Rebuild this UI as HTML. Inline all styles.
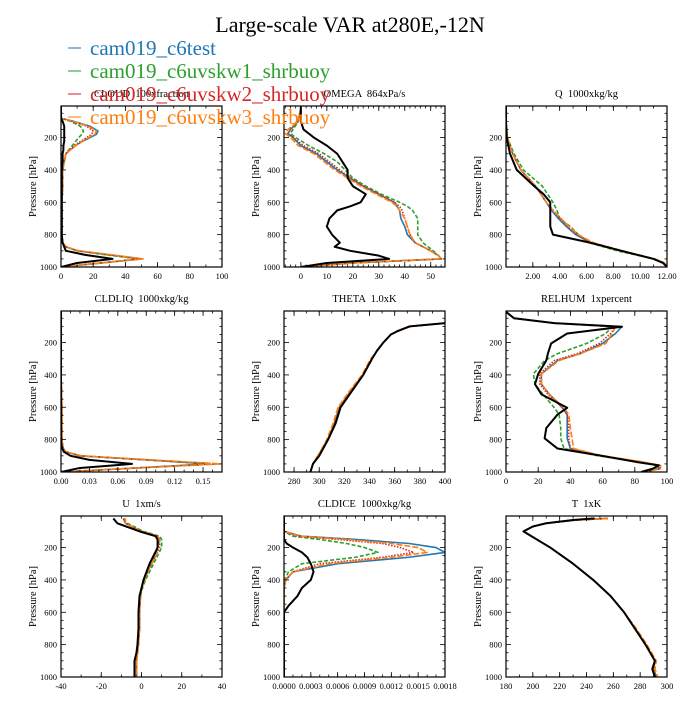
<!DOCTYPE html>
<html><head><meta charset="utf-8"><style>
body{margin:0;background:#fff}
svg text{font-family:"Liberation Serif","Times New Roman",serif;white-space:pre}
</style></head><body>
<svg id="c" width="700" height="700" viewBox="0 0 700 700" xmlns="http://www.w3.org/2000/svg">
<text x="350" y="32" text-anchor="middle" font-size="22" font-family="Liberation Serif, serif">Large-scale VAR at280E,-12N</text>
</svg>
<script>
const seriesNames=["cam019_c6test","cam019_c6uvskw1_shrbuoy","cam019_c6uvskw2_shrbuoy","cam019_c6uvskw3_shrbuoy"];
const seriesColors=["#1f77b4","#2ca02c","#d62728","#ff7f0e","#000000"];
const seriesDash=["","4,2","1.5,1.5","6,2",""];
const seriesWidth=[1.6,1.6,1.6,1.6,2];

// CLOUD
const pCloud=[10,50,80,100,130,160,180,200,225,250,275,300,350,400,500,600,700,800,850,875,900,925,950,975,1000];
const cloudBlue=[0,0,0,8,18,23,22,18,13,9,6,3,2,1,1,0.5,0.5,0.5,1,3,10,30,50,25,0];
const cloudGreen=[0,0,0,6,12,14,13,11,9,7,5,3,2,1,1,0.5,0.5,0.5,1,3,10,28,48,25,0];
const cloudRed=[0,0,0,7,16,20,19,16,12,8,5,3,2,1,1,0.5,0.5,0.5,1,3,11,30,49,25,0];
const cloudOrange=[0,0,0,8,17,22,21,17,13,9,6,3,2,1,1,0.5,0.5,0.5,1,3,11,32,51,25,0];
const cloudObs=[0,0,0,1,2,2,2,2,2,1.5,1.5,1,1,0.5,0.5,0.5,0.5,0.5,1,2,3,15,32,10,0];
// OMEGA
const pOmega=[10,100,150,175,200,250,300,350,400,450,500,550,600,625,650,700,750,800,850,875,900,930,950,975,1000];
const omegaBlue=[0,-1,-4,-5,-3,0,6,10,14,19,24,30,36,37,38,38.5,40,41,44,47,50,53,54,20,0];
const omegaGreen=[0,-1,-3,-4,-2,3,9,14,17,20,25,31,38,41,43,45,45,45,47,49,51,53,54,20,0];
const omegaRed=[0,-1,-4,-5,-3,1,7,11,15,19,24,30,36,38,39,40,41,42,44,47,50,53,54,20,0];
const omegaOrange=[0,-1,-5,-6,-4,-1,5,9,13,18,23,29,35,37,38,40,41,42,44,47,50,53,54,20,0];
const omegaObs=[0,0,1,3,5,10,14,16,18,18,20,25,23,19,14,11,10,12,15,13,19,30,34,10,0];
// Q
const pQ=[10,100,200,300,400,500,550,600,650,700,750,800,850,900,950,975,1000];
const qBlue=[0,0,0.1,0.5,1.1,2.2,2.6,3.0,3.4,3.9,4.5,5.2,6.3,8.5,11,11.8,12];
const qGreen=[0,0,0.1,0.6,1.3,2.7,3.1,3.5,3.8,4.0,4.8,5.4,6.2,8.3,11,11.8,12];
const qRed=[0,0,0.1,0.5,1.1,2.2,2.6,3.0,3.5,4.0,4.6,5.3,6.4,8.6,11,11.8,12];
const qOrange=[0,0,0.1,0.5,1.1,2.2,2.6,3.0,3.5,4.1,4.7,5.4,6.5,8.7,11.1,11.8,12];
const qObs=[0,0,0.05,0.3,0.8,2.1,2.8,3.3,3.3,3.3,3.3,3.5,6.3,8.6,11,11.7,12];
// CLDLIQ
const pLiq=[10,200,400,600,800,850,875,900,925,950,975,1000];
const liqBlue=[0,0,0,0.001,0.001,0.002,0.005,0.02,0.09,0.155,0.08,0];
const liqGreen=[0,0,0,0.001,0.001,0.002,0.005,0.02,0.09,0.165,0.08,0];
const liqRed=[0,0,0,0.001,0.001,0.002,0.005,0.02,0.09,0.165,0.08,0];
const liqOrange=[0,0,0,0.001,0.001,0.002,0.005,0.022,0.095,0.168,0.08,0];
const liqObs=[0,0,0,0,0,0.001,0.003,0.01,0.03,0.075,0.02,0];
// THETA
const pTheta=[60,80,100,130,150,200,250,300,400,500,600,700,800,900,950,1000];
const thetaBlue=[430,400,372,362,357,351,346,342,335,325,316,312,307,299,295,293];
const thetaGreen=[430,400,372,362,357,351,346,342,335,325,316,312,307,299,295,293];
const thetaRed=[430,400,372,362,357,351,346,342,335,325,316,312,307,299,295,293];
const thetaOrange=[430,400,373,363,357,351,346,341,334,324,315,311,306,299,295,293];
const thetaObs=[430,400,372,362,357,351,346,342,335,326,317,313,307,300,295,293];
// RELHUM
const pRh=[10,50,80,102,144,206,269,311,394,457,520,603,645,729,792,855,896,938,959,980,1000];
const rhBlue=[0,5,30,72,68,60,46,32,22,22,27,35,38,38,38,40,57,84,94,95,84];
const rhGreen=[0,5,30,66,62,50,32,24,17,18,23,30,33,34,34,36,55,83,93,94,85];
const rhRed=[0,5,30,68,65,58,44,30,21,21,26,35,38,39,39,40,57,84,95,96,85];
const rhOrange=[0,5,30,68,66,62,46,33,22,22,27,36,39,40,41,42,58,85,96,96,86];
const rhObs=[0,5,30,72,38,28,26,25,20,18,22,38,32,25,24,32,57,81,95,91,84];
// U
const pU=[20,50,100,130,150,200,250,300,350,400,450,500,600,700,800,850,900,1000];
const uBlue=[-9,-8,0,8,9,8,7,5,3,1.5,0,-0.5,-1,-1,-1.5,-2,-2.5,-2.5];
const uGreen=[-9,-7,1,9,10,10,8,6,4,2,0.5,-0.5,-1,-1,-1.5,-2,-2.5,-2.5];
const uRed=[-9,-8,0,8,9,9,7,5,3,1.5,0,-0.5,-1,-1,-1.5,-2,-2.5,-2.5];
const uOrange=[-8,-8,0,8,9,8,7,5,3,1.5,0,-0.5,-1,-1,-1.5,-2,-2.5,-2.5];
const uObs=[-14,-12,-1,7,8,8,6,4,2.5,1,0,-1,-1.5,-1.5,-2,-2.5,-3.5,-3.5];
// CLDICE
const pIce=[10,100,130,150,175,200,230,260,300,350,400,450,500,560,600,1000];
const iceBlue=[0,0,0.0002,0.0008,0.0014,0.0017,0.0018,0.0014,0.0006,0.0001,0.00002,0,0,0,0,0];
const iceGreen=[0,0,0.0001,0.0004,0.0007,0.0009,0.00105,0.0008,0.0002,0.00005,0.00001,0,0,0,0,0];
const iceRed=[0,0,0.00015,0.0006,0.0011,0.0013,0.00145,0.0011,0.0004,0.0001,0.00002,0,0,0,0,0];
const iceOrange=[0,0,0.0002,0.0007,0.0012,0.0015,0.0016,0.0012,0.0005,0.0001,0.00002,0,0,0,0,0];
const iceObs=[0,0,0,0,0.00003,0.0001,0.0002,0.00026,0.0003,0.00033,0.0003,0.0002,0.00015,0.00005,0,0];
// T
const pT=[20,30,50,70,100,130,200,300,400,500,600,700,800,900,950,1000];
const tBlue=[256,232,210,200,193,199,213,230,245,258,268,276,284,291,290,292];
const tGreen=[256,232,210,200,193,199,213,230,245,258,268,276,284,291,290,292];
const tRed=[256,232,210,200,193,199,213,230,245,258,268,276,284,291,290,292];
const tOrange=[256,232,210,200,193,199,213,230,245,258,268,277,285,292,291,293];
const tObs=[246,230,210,200,193,199,213,230,245,258,268,276,284,291,289,291];

const NS="http://www.w3.org/2000/svg";
const svg=document.getElementById("c");
const FF="Liberation Serif, serif";
function mk(tag,attrs,parent){const e=document.createElementNS(NS,tag);for(const k in attrs)e.setAttribute(k,attrs[k]);(parent||svg).appendChild(e);return e;}

const panels=[
 {title:"CLOUD  100xfraction",x0:61,y0:106,xmin:0,xmax:100,xt:[0,20,40,60,80,100],xl:v=>String(v),minor:10,p:pCloud,s:[cloudBlue,cloudGreen,cloudRed,cloudOrange,cloudObs]},
 {title:"OMEGA  864xPa/s",x0:284,y0:106,xmin:-6.5,xmax:55.5,xt:[0,10,20,30,40,50],xl:v=>String(v),minor:2,p:pOmega,s:[omegaBlue,omegaGreen,omegaRed,omegaOrange,omegaObs]},
 {title:"Q  1000xkg/kg",x0:506,y0:106,xmin:0,xmax:12,xt:[2,4,6,8,10,12],xl:v=>v.toFixed(2),minor:1,p:pQ,s:[qBlue,qGreen,qRed,qOrange,qObs]},
 {title:"CLDLIQ  1000xkg/kg",x0:61,y0:311,xmin:0,xmax:0.17,xt:[0,0.03,0.06,0.09,0.12,0.15],xl:v=>v.toFixed(2),minor:0.01,p:pLiq,s:[liqBlue,liqGreen,liqRed,liqOrange,liqObs]},
 {title:"THETA  1.0xK",x0:284,y0:311,xmin:272,xmax:400,xt:[280,300,320,340,360,380,400],xl:v=>String(v),minor:10,p:pTheta,s:[thetaBlue,thetaGreen,thetaRed,thetaOrange,thetaObs]},
 {title:"RELHUM  1xpercent",x0:506,y0:311,xmin:0,xmax:100,xt:[0,20,40,60,80,100],xl:v=>String(v),minor:10,p:pRh,s:[rhBlue,rhGreen,rhRed,rhOrange,rhObs]},
 {title:"U  1xm/s",x0:61,y0:516,xmin:-40,xmax:40,xt:[-40,-20,0,20,40],xl:v=>String(v),minor:10,p:pU,s:[uBlue,uGreen,uRed,uOrange,uObs]},
 {title:"CLDICE  1000xkg/kg",x0:284,y0:516,xmin:0,xmax:0.0018,xt:[0,0.0003,0.0006,0.0009,0.0012,0.0015,0.0018],xl:v=>v.toFixed(4),minor:0.0001,p:pIce,s:[iceBlue,iceGreen,iceRed,iceOrange,iceObs]},
 {title:"T  1xK",x0:506,y0:516,xmin:180,xmax:300,xt:[180,200,220,240,260,280,300],xl:v=>String(v),minor:10,p:pT,s:[tBlue,tGreen,tRed,tOrange,tObs]},
];
const W=161,H=161,PMIN=5,PMAX=1000;
panels.forEach((P,pi)=>{
  const g=mk("g",{});
  
  
  const xs=v=>P.x0+(v-P.xmin)/(P.xmax-P.xmin)*W;
  const ys=p=>P.y0+(p-PMIN)/(PMAX-PMIN)*H;
  const cp=mk("clipPath",{id:"cp"+pi},g);
  mk("rect",{x:P.x0,y:P.y0,width:W,height:H},cp);
  const t=mk("text",{x:P.x0+W/2,y:P.y0-9,"text-anchor":"middle","font-size":10.5,"font-family":FF},g);
  
  
  t.textContent=P.title;
  const yl=mk("text",{x:0,y:0,"text-anchor":"middle","font-size":10.5,"font-family":FF,transform:`translate(${P.x0-25},${P.y0+H/2}) rotate(-90)`},g);
  
  
  yl.textContent="Pressure [hPa]";
  P.s.forEach((arr,si)=>{
    const d=arr.map((v,k)=>(k?"L":"M")+xs(v).toFixed(2)+","+ys(P.p[k]).toFixed(2)).join("");
    const path=mk("path",{d:d,fill:"none",stroke:seriesColors[si],"stroke-width":seriesWidth[si],"stroke-dasharray":seriesDash[si],"clip-path":`url(#cp${pi})`,"stroke-linejoin":"round"},g);
    
    
  });
  mk("rect",{x:P.x0,y:P.y0,width:W,height:H,fill:"none",stroke:"#000","stroke-width":1.2},g);
  for(let p=50;p<=1000;p+=50){
    const y=ys(p),L=(p%200===0)?5:2.5;
    mk("line",{x1:P.x0,x2:P.x0+L,y1:y,y2:y,stroke:"#000","stroke-width":0.8},g);
    mk("line",{x1:P.x0+W,x2:P.x0+W-L,y1:y,y2:y,stroke:"#000","stroke-width":0.8},g);
    if(p%200===0){const tl=mk("text",{x:P.x0-4,y:y+3,"text-anchor":"end","font-size":8.5,"font-family":FF},g);tl.textContent=p;
      
      }
  }
  const n=Math.round((P.xmax-P.xmin)/P.minor)+2;
  const start=Math.ceil(P.xmin/P.minor)*P.minor;
  for(let k=0;k<n;k++){const v=start+k*P.minor;if(v>P.xmax+1e-9)break;const x=xs(v);
    mk("line",{x1:x,x2:x,y1:P.y0+H,y2:P.y0+H-2.5,stroke:"#000","stroke-width":0.8},g);
    mk("line",{x1:x,x2:x,y1:P.y0,y2:P.y0+2.5,stroke:"#000","stroke-width":0.8},g);}
  P.xt.forEach(v=>{const x=xs(v);
    mk("line",{x1:x,x2:x,y1:P.y0+H,y2:P.y0+H-5,stroke:"#000","stroke-width":0.8},g);
    mk("line",{x1:x,x2:x,y1:P.y0,y2:P.y0+5,stroke:"#000","stroke-width":0.8},g);
    const tl=mk("text",{x:x,y:P.y0+H+12,"text-anchor":"middle","font-size":8.5,"font-family":FF},g);
    
    
    tl.textContent=P.xl(v);});
});

seriesNames.forEach((n,i)=>{
  const g=mk("g",{});
  
  
  mk("line",{x1:68,x2:81,y1:48+i*23,y2:48+i*23,stroke:seriesColors[i],"stroke-width":1.5,opacity:0.7},g);
  const t=mk("text",{x:90,y:55+i*23,"font-size":21,"font-family":FF,fill:seriesColors[i]},g);
  t.textContent=n;
});
</script>
</body></html>
